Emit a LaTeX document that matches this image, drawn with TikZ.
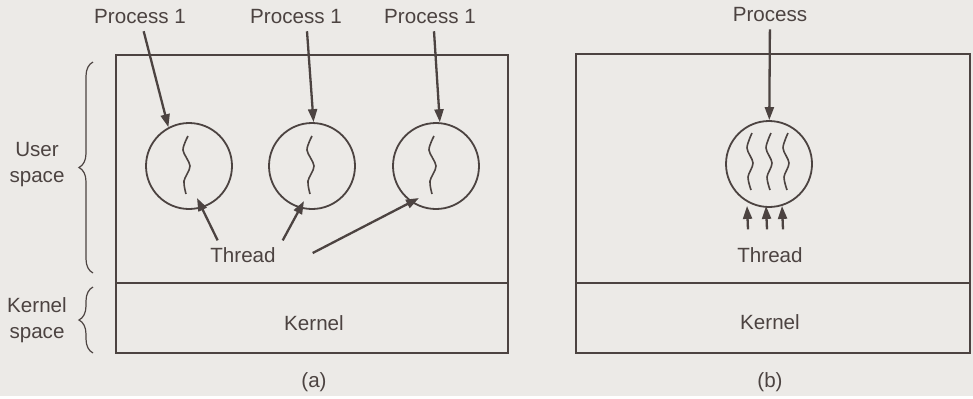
\documentclass[tikz,border=0pt]{standalone}
\usepackage{fontspec}
\setmainfont{Liberation Sans}
\usetikzlibrary{arrows.meta,calc,decorations.pathreplacing}
\definecolor{ink}{RGB}{76,67,65}
\definecolor{paper}{RGB}{236,234,231}
\begin{document}
\begin{tikzpicture}[x=0.5pt, y=-0.5pt,
                    every node/.style={text=ink, font=\fontsize{10.3}{13}\selectfont},
                    proc_style/.style={circle, draw=ink, line width=0.9pt, minimum size=43pt, inner sep=0pt},
                    box_style/.style={draw=ink, line width=1pt},
                    arrow_style/.style={draw=ink, line width=1.15pt, -{Triangle[length=6.5pt,width=4.5pt]}},
                    wave_style/.style={draw=ink, line width=0.8pt},
                    brace_style/.style={draw=ink, line width=0.6pt, decorate, decoration={brace, amplitude=7pt}}]
                    \fill[paper] (0,0) rectangle (973,396);
                    % (a)
                    \draw[box_style] (116,55) rectangle (508,353);
                    \draw[box_style] (116,283) -- (508,283);
                    \draw[brace_style] (93,273) -- (93,62);
                    \draw[brace_style] (93,353) -- (93,287);
                    \node[align=center] (us) at (37,165) {User\\space};
                    \node[align=center] (ks) at (37,320) {Kernel\\space};
                    \node (p1) at (140,17) {Process 1};
                    \node (p2) at (296,17) {Process 1};
                    \node (p3) at (430,17) {Process 1};
                    \node[proc_style] (c1) at (189,166) {};
                    \node[proc_style] (c2) at (312,166) {};
                    \node[proc_style] (c3) at (436,166) {};
                    \node (thr) at (243,255) {Thread};
                    \node (ka) at (314,323) {Kernel};
                    \node (la) at (314,382) {(a)};
                    \coordinate (t1) at (197,198);
                    \coordinate (t2) at (304,201);
                    \coordinate (t3) at (419,198);
                    \foreach \x in {188,312,434}
                        \draw[wave_style] plot[smooth] coordinates {(\x,136) ({\x-5},150) ({\x+2},166) ({\x-4},181) ({\x-2},194)};
                    \draw[arrow_style] (p1) -- (c1.118);
                    \draw[arrow_style] ($(p2.south)+(11,0)$) -- (c2.88);
                    \draw[arrow_style] ($(p3.south)+(4,0)$) -- (c3.85);
                    \draw[arrow_style] (thr.150) -- (t1);
                    \draw[arrow_style] (thr.north east) -- (t2);
                    \draw[arrow_style] ($(thr.east)+(30,-2)$) -- (t3);
                    % (b)
                    \draw[box_style] (576,54) rectangle (970,353);
                    \draw[box_style] (576,283) -- (970,283);
                    \node (pb) at (770,15) {Process};
                    \node[proc_style] (cb) at (769,164) {};
                    \node (thb) at (770,255) {Thread};
                    \node (kb) at (770,322) {Kernel};
                    \node (lb) at (770,382) {(b)};
                    \foreach \x in {752,771,788}
                        \draw[wave_style] plot[smooth] coordinates {(\x,133) ({\x-5},148) ({\x+1},163) ({\x-4},177) ({\x-1},190)};
                    \draw[arrow_style] (pb) -- (cb);
                    \foreach \d in {-22,-3,13}
                        \draw[arrow_style] ($(thb.north)+(\d,-11)$) -- ($(cb.south)+(\d,-2)$);
                \end{tikzpicture}
\end{document}
